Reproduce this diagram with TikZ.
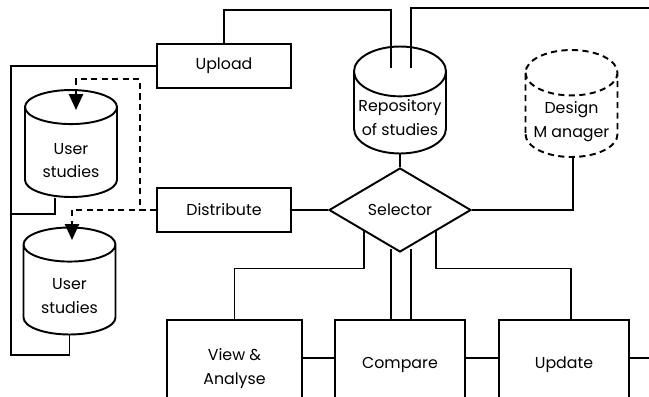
\documentclass[tikz,border=0pt]{standalone}
\usepackage{fontspec}
\setmainfont{Poppins}
\usetikzlibrary{shapes.geometric,arrows.meta,calc}

% text set lower than the node centre
\newcommand{\lowtext}[2]{\raisebox{-#1}[0pt][0pt]{\begin{tabular}{@{}c@{}}#2\end{tabular}}}

\begin{document}
\begin{tikzpicture}[x=0.02cm,y=-0.02cm,line width=1.1pt,
  font=\fontsize{9}{13.6}\selectfont,
  box/.style={draw,minimum width=2.68cm,minimum height=0.88cm,inner sep=0pt},
  lowbox/.style={draw,minimum width=2.6cm,minimum height=1.6cm,inner sep=0pt},
  store/.style={draw,cylinder,shape border rotate=90,aspect=0.6,minimum width=1.84cm,minimum height=2.14cm,inner sep=0pt,anchor=shape center},
  chooser/.style={draw,diamond,minimum width=2.84cm,minimum height=1.68cm,inner sep=0pt},
  flow/.style={dash pattern=on 3.5pt off 2.5pt,-{Triangle[length=9pt,width=8pt]}}]

  \useasboundingbox (0,0) rectangle (649,396);
  \clip (0,0) rectangle (649,396);

  % boxes and stores
  \node[box] (upload) at (224,66) {Upload};
  \node[box] (distribute) at (224,210) {Distribute};
  \node[store] (user1) at (71,143.5) {\lowtext{7.2pt}{User\\studies}};
  \node[store] (user2) at (69.5,281) {\lowtext{6pt}{User\\studies}};
  \node[store] (repo) at (400,100) {\lowtext{5.3pt}{Repository\\of studies}};
  \node[store,dash pattern=on 3.5pt off 2.5pt] (design) at (571.5,103.5) {\lowtext{5.5pt}{Design\\M anager}};
  \node[chooser] (selector) at (400,210) {Selector};
  \node[lowbox,minimum width=2.7cm] (view) at (234.5,360) {\lowtext{6.5pt}{View \&\\Analyse}};
  \node[lowbox] (compare) at (400,360) {\lowtext{4.5pt}{Compare}};
  \node[lowbox] (update) at (564,360) {\lowtext{4.5pt}{Update}};

  % free ends
  \coordinate (repoinA) at (391,68);
  \coordinate (repoinB) at (411,68);
  \coordinate (eastA) at (649,8);
  \coordinate (eastB) at (649,358);
  \coordinate (user1in) at (76,110);
  \coordinate (user2in) at (72,240);

  % connectors
  \draw (upload.north) |- (391,10) -- (repoinA);
  \draw (repoinB) |- (eastA);
  \draw (upload.west) -| (11,355) -| (user2.south);
  \draw ($(user1.south)+(-16,0)$) |- (11,214);
  \draw[flow] (distribute.west) -| (140,79) -| (user1in);
  \draw[flow] (distribute.west) -| (user2in);
  \draw (distribute.east) -- (selector.west);
  \draw (repo.south) -- (selector.north);
  \draw ($(design.south)+(1.5,0)$) |- (selector.east);
  \draw (selector.south west) -- ++(0,37) -| (view.north);
  \draw (selector.south east) -- ++(0,37) -| ($(update.north)+(7,0)$);
  \draw ($(compare.north)+(-9,0)$) -- ($(selector.south)+(-9,-4)$);
  \draw ($(compare.north)+(11,0)$) -- ($(selector.south)+(11,-4)$);
  \draw ($(view.east)+(0,-2)$) -- ($(compare.west)+(0,-2)$);
  \draw ($(compare.east)+(0,-2)$) -- ($(update.west)+(0,-2)$);
  \draw ($(update.east)+(0,-2)$) -- (eastB);

\end{tikzpicture}
\end{document}
